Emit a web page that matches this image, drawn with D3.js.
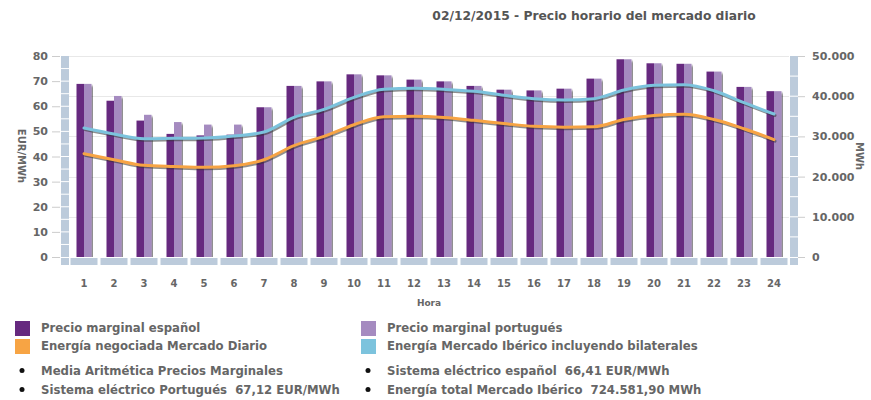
<!DOCTYPE html>
<html><head><meta charset="utf-8">
<script src="https://cdn.jsdelivr.net/npm/d3@7"></script>
<style>body{margin:0;background:#fff;}svg{display:block;font-family:Verdana,"DejaVu Sans",sans-serif;}text{white-space:pre;}</style>
</head><body><svg id="c" width="871" height="400"></svg>
<script>
const hours = d3.range(1,25).map(String);
const precioES = [68.9,62.2,54.3,49.0,48.4,48.7,59.6,68.1,69.9,72.7,72.3,70.6,69.9,68.1,66.6,66.3,67.0,71.0,78.7,77.1,76.9,73.8,67.7,66.0];
const precioPT = [68.9,64.1,56.6,53.7,52.7,52.7,59.6,68.1,69.9,72.7,72.3,70.6,69.9,68.1,66.6,66.3,67.0,71.0,78.7,77.1,76.9,73.8,67.7,66.0];
const energiaDiario = [25700,24200,22800,22500,22300,22700,24200,27700,30000,32900,34900,35000,34700,34000,33200,32500,32300,32400,34200,35200,35500,34200,31900,29200];
const energiaIberico = [32090,30600,29430,29520,29600,30100,31100,34750,36740,39720,41710,41960,41710,41220,40220,39380,39060,39380,41540,42710,42870,41370,38380,35570];
const leftTicks = [0,10,20,30,40,50,60,70,80];
const rightTicks = [0,10000,20000,30000,40000,50000];
const title = "02/12/2015 - Precio horario del mercado diario";
const legendItems = [
 {label:"Precio marginal español", color:"#66297f", col:0,row:0},
 {label:"Precio marginal portugués", color:"#a58bc0", col:1,row:0},
 {label:"Energía negociada Mercado Diario", color:"#f7a444", col:0,row:1},
 {label:"Energía Mercado Ibérico incluyendo bilaterales", color:"#7cc3dd", col:1,row:1}
];
const bulletItems = [
 {label:"Media Aritmética Precios Marginales", col:0,row:0},
 {label:"Sistema eléctrico español  66,41 EUR/MWh", col:1,row:0},
 {label:"Sistema eléctrico Portugués  67,12 EUR/MWh", col:0,row:1},
 {label:"Energía total Mercado Ibérico  724.581,90 MWh", col:1,row:1}
];

const svg = d3.select("#c");
const TXT = "#666";
const x0 = 69, x1 = 789, yTop = 56, yBot = 257;
const x = d3.scaleBand().domain(hours).range([x0,x1]);
const yL = d3.scaleLinear().domain([0,80]).range([yBot,yTop]);
const yR = d3.scaleLinear().domain([0,50000]).range([yBot,yTop]);

// defs
const defs = svg.append("defs");
const f = defs.append("filter").attr("id","sh").attr("x","-10%").attr("y","-10%").attr("width","130%").attr("height","130%");
f.append("feGaussianBlur").attr("in","SourceAlpha").attr("stdDeviation",0.8).attr("result","b");
f.append("feOffset").attr("in","b").attr("dx",1.5).attr("dy",1.5).attr("result","o");
f.append("feComponentTransfer").attr("in","o").attr("result","o2").append("feFuncA").attr("type","linear").attr("slope",0.55);
const fm = f.append("feMerge"); fm.append("feMergeNode").attr("in","o2"); fm.append("feMergeNode").attr("in","SourceGraphic");

// title
svg.append("text").attr("x",594).attr("y",20).attr("text-anchor","middle")
  .attr("font-size",12.3).attr("font-weight","bold").attr("fill","#555").text(title);

// gridlines (right axis ticks)
svg.append("g").selectAll("line").data(rightTicks.slice(1)).join("line")
  .attr("x1",x0).attr("x2",x1).attr("y1",d=>Math.round(yR(d))+0.5).attr("y2",d=>Math.round(yR(d))+0.5)
  .attr("stroke","#e8e8e8");

// side bands
const BAND="#bccbdb";
function band(xa, w, step, scale, maxv){
  const g = svg.append("g");
  g.append("rect").attr("x",xa).attr("y",yTop).attr("width",w).attr("height",yBot-yTop).attr("fill",BAND);
  g.selectAll("line").data(d3.range(step, maxv, step)).join("line")
    .attr("x1",xa).attr("x2",xa+w).attr("y1",d=>scale(d)).attr("y2",d=>scale(d))
    .attr("stroke","#fff").attr("stroke-width",1);
  g.append("rect").attr("x",xa).attr("y",yBot+1).attr("width",w).attr("height",7).attr("fill",BAND);
}
band(61, 8, 5, yL, 80);
band(790, 8, 5000, yR, 50000);

// axes
const axL = d3.axisLeft(yL).tickValues(leftTicks).tickSize(8).tickPadding(4);
const gL = svg.append("g").attr("transform","translate(60,0)").call(axL);
const axR = d3.axisRight(yR).tickValues(rightTicks).tickSize(7).tickPadding(7)
  .tickFormat(d=>d3.format(",")(d).replace(/,/g,"."));
const gR = svg.append("g").attr("transform","translate(798,0)").call(axR);
[gL,gR].forEach(g=>{
  g.select(".domain").remove();
  g.selectAll("line").attr("stroke","#ccc");
  g.selectAll("text").attr("fill",TXT).attr("font-size",11).attr("font-weight","bold")
   .attr("font-family",'Verdana,"DejaVu Sans",sans-serif');
});
const axB = d3.axisBottom(x).tickSize(0).tickPadding(0);
const gB = svg.append("g").attr("transform","translate(0,280)").call(axB);
gB.select(".domain").remove();
gB.selectAll("text").attr("fill",TXT).attr("font-size",10).attr("font-weight","bold")
  .attr("font-family",'Verdana,"DejaVu Sans",sans-serif');

svg.append("text").attr("transform","translate(18,156) rotate(90)").attr("text-anchor","middle")
  .attr("font-size",10).attr("font-weight","bold").attr("fill",TXT).text("EUR/MWh");
svg.append("text").attr("transform","translate(856,156) rotate(90)").attr("text-anchor","middle")
  .attr("font-size",10).attr("font-weight","bold").attr("fill",TXT).text("MWh");
svg.append("text").attr("x",429).attr("y",306).attr("text-anchor","middle")
  .attr("font-size",9).attr("font-weight","bold").attr("fill",TXT).text("Hora");

// bars
const bw = 7.5;
const bars = svg.append("g");
const pairs = hours.map((h,i)=>({h, es:precioES[i], pt:precioPT[i]}));
const pg = bars.selectAll("g").data(pairs).join("g");
pg.append("rect").attr("x",d=>x(d.h)+x.bandwidth()/2).attr("y",d=>yL(d.pt)).attr("width",bw).attr("height",d=>yBot-yL(d.pt))
  .attr("fill","#a58bc0").attr("filter","url(#sh)");
pg.append("rect").attr("x",d=>x(d.h)+x.bandwidth()/2-bw).attr("y",d=>yL(d.es)).attr("width",bw).attr("height",d=>yBot-yL(d.es))
  .attr("fill","#66297f");

// bottom band segments (over bar shadows)
svg.append("rect").attr("x",x0).attr("y",yBot).attr("width",x1-x0).attr("height",9).attr("fill","#fff");
svg.append("g").selectAll("rect").data(hours).join("rect")
  .attr("x",d=>x(d)+1.5).attr("y",yBot+1).attr("width",x.bandwidth()-3).attr("height",7).attr("fill",BAND);

// lines
function drawLine(vals, color){
  const ln = d3.line().x((d,i)=>x(hours[i])+x.bandwidth()/2).y(d=>yR(d)).curve(d3.curveMonotoneX);
  svg.append("path").attr("d",ln(vals)).attr("fill","none").attr("stroke","#333").attr("stroke-opacity",0.55)
    .attr("stroke-width",3).attr("transform","translate(1,1.5)").attr("stroke-linecap","round");
  svg.append("path").attr("d",ln(vals)).attr("fill","none").attr("stroke",color).attr("stroke-width",3).attr("stroke-linecap","round");
}
drawLine(energiaIberico, "#7cc3dd");
drawLine(energiaDiario, "#f7a444");

// legend
const lg = svg.append("g");
const colX = [15, 361];
const rowY = [328, 346];
const LFS = 11.7;
legendItems.forEach(it=>{
  lg.append("rect").attr("x",colX[it.col]).attr("y",rowY[it.row]-7).attr("width",15).attr("height",15).attr("fill",it.color);
  lg.append("text").attr("x",colX[it.col]+26).attr("y",rowY[it.row]+4).attr("font-size",LFS).attr("font-weight","bold")
    .attr("fill",TXT).text(it.label);
});
const bRowY = [371, 390];
bulletItems.forEach(it=>{
  lg.append("circle").attr("cx",colX[it.col]+7).attr("cy",bRowY[it.row]-0.5).attr("r",2.5).attr("fill","#111");
  lg.append("text").attr("x",colX[it.col]+26).attr("y",bRowY[it.row]+4).attr("font-size",LFS).attr("font-weight","bold")
    .attr("fill",TXT).text(it.label);
});
</script></body></html>
